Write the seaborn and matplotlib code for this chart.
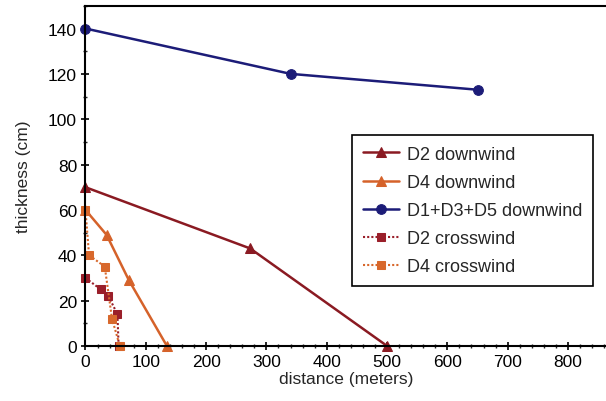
import pandas as pd
import matplotlib
matplotlib.use("Agg")
import matplotlib.pyplot as plt
import seaborn as sns
from matplotlib.ticker import MultipleLocator

# data
d2_down_x = [0, 273, 500]
d2_down_y = [70, 43, 0]
d4_down_x = [0, 35, 72, 135]
d4_down_y = [60, 49, 29, 0]
d135_down_x = [0, 340, 650]
d135_down_y = [140, 120, 113]
d2_cross_x = [0, 25, 38, 53, 55]
d2_cross_y = [30, 25, 22, 14, 0]
d4_cross_x = [0, 6, 32, 44, 57]
d4_cross_y = [60, 40, 35, 12, 0]

sns.set_style("ticks")
plt.rcParams["font.family"] = ["Liberation Sans", "DejaVu Sans"]

fig = plt.figure(figsize=(6.06, 4.02), dpi=100)
ax = fig.add_axes([0.141, 0.137, 0.859, 0.846])

series = [
    ("D2 downwind", d2_down_x, d2_down_y, "#8a1a22", "^", "-", 7),
    ("D4 downwind", d4_down_x, d4_down_y, "#d5622a", "^", "-", 7),
    ("D1+D3+D5 downwind", d135_down_x, d135_down_y, "#1c1c78", "o", "-", 7),
    ("D2 crosswind", d2_cross_x, d2_cross_y, "#9a1f2a", "s", (0, (1, 1)), 6),
    ("D4 crosswind", d4_cross_x, d4_cross_y, "#d8682c", "s", (0, (1, 1)), 6),
]

for name, xs, ys, col, mk, ls, ms in series:
    df = pd.DataFrame({"distance": xs, "thickness": ys})
    lw = 1.8 if ls == "-" else 1.5
    sns.lineplot(data=df, x="distance", y="thickness", ax=ax, color=col,
                 marker=mk, markersize=ms, markeredgecolor=col, linestyle=ls,
                 linewidth=lw, sort=False, label=name, clip_on=False)

ax.set_xticks(range(0, 900, 100))
ax.xaxis.set_minor_locator(MultipleLocator(20))
ax.yaxis.set_major_locator(MultipleLocator(20))
ax.yaxis.set_minor_locator(MultipleLocator(10))
ax.set_xlim(0, 863)
ax.set_ylim(0, 150)
ax.tick_params(which="major", direction="inout", length=6, width=1.2,
               labelsize=12.5, colors="black", pad=3)
ax.tick_params(which="minor", direction="inout", length=3, width=1)
ax.spines["right"].set_visible(False)
for s in ["left", "bottom", "top"]:
    ax.spines[s].set_linewidth(1.5)
    ax.spines[s].set_color("black")

ax.set_xlabel("distance (meters)", fontsize=12.5, labelpad=1)
ax.set_ylabel("thickness (cm)", fontsize=12.5, labelpad=12)

leg = ax.legend(loc="upper left", bbox_to_anchor=(0.581, 0.662),
                bbox_transform=fig.transFigure, fontsize=13, frameon=True,
                fancybox=False, edgecolor="black", framealpha=1,
                handlelength=2.0, handletextpad=0.45, labelspacing=0.62,
                borderpad=0.6, borderaxespad=0)
leg.get_frame().set_linewidth(1.2)

fig.savefig("out.png", dpi=100)
